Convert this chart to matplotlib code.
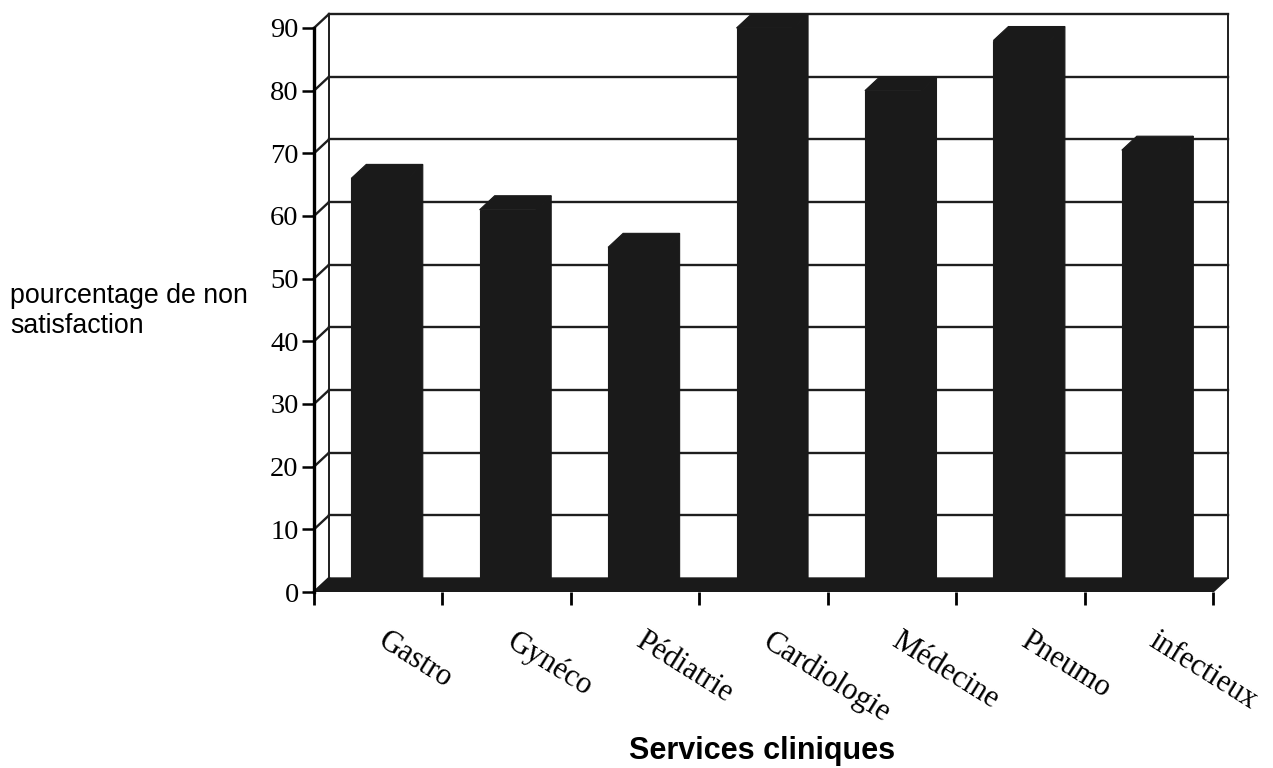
import matplotlib
matplotlib.use("Agg")
import matplotlib.pyplot as plt
from matplotlib.patches import Polygon

# data
services = ["Gastro", "Gynéco", "Pédiatrie", "Cardiologie", "Médecine", "Pneumo", "infectieux"]
non_satisfaction = [66, 61, 55, 90, 80, 88, 70.5]
y_ticks = [0, 10, 20, 30, 40, 50, 60, 70, 80, 90]

BAR_COLOR = "#1a1a1a"
LINE_COLOR = "#1e1e1e"

# pseudo-3d depth (data units)
dx, dy = 0.117, 2.23
bar_left, bar_w = 0.29, 0.44
ymax = 90

fig = plt.figure(figsize=(12.73, 7.68), dpi=100)
ax = fig.add_axes([314 / 1273, 1 - 592 / 768, 914 / 1273, 578 / 768])
n = len(services)
ax.set_xlim(0, n + dx)
ax.set_ylim(0, ymax + dy)
ax.patch.set_visible(False)

# back wall + gridlines
for v in y_ticks[1:]:
    ax.plot([dx, n + dx], [v + dy, v + dy], color=LINE_COLOR, lw=1.7, zorder=1, clip_on=False)
ax.plot([dx, dx, n + dx, n + dx], [dy, ymax + dy, ymax + dy, dy],
        color=LINE_COLOR, lw=1.4, zorder=1, clip_on=False)

# left side wall
for v in y_ticks:
    ax.plot([0, dx], [v, v + dy], color=LINE_COLOR, lw=1.7, zorder=1, clip_on=False)

# floor
floor = Polygon([(0, 0), (n, 0), (n + dx, dy), (dx, dy)], closed=True,
                facecolor=BAR_COLOR, edgecolor=BAR_COLOR, lw=1, zorder=2)
ax.add_patch(floor)

# bars: front face from the data, top and side faces offset by the depth
xs = [i + bar_left for i in range(n)]
ax.bar(xs, non_satisfaction, width=bar_w, align="edge", color=BAR_COLOR,
       edgecolor=BAR_COLOR, lw=0.8, zorder=3)
for x0, v in zip(xs, non_satisfaction):
    x1 = x0 + bar_w
    top = Polygon([(x0, v), (x1, v), (x1 + dx, v + dy), (x0 + dx, v + dy)],
                  closed=True, facecolor=BAR_COLOR, edgecolor=BAR_COLOR, lw=0.8, zorder=3)
    side = Polygon([(x1, 0), (x1 + dx, dy), (x1 + dx, v + dy), (x1, v)],
                   closed=True, facecolor=BAR_COLOR, edgecolor=BAR_COLOR, lw=0.8, zorder=3)
    ax.add_patch(top)
    ax.add_patch(side)

# axes / spines
for s in ["top", "right", "bottom"]:
    ax.spines[s].set_visible(False)
ax.spines["left"].set_bounds(0, ymax)
ax.spines["left"].set_linewidth(2.4)
ax.spines["left"].set_zorder(5)

ax.set_yticks(y_ticks)
ax.set_yticklabels([str(t) for t in y_ticks], family="Liberation Serif", fontsize=20.5)
ax.tick_params(axis="y", length=9, width=1.8, pad=2, colors="black")

ax.set_xticks(range(n + 1), minor=True)
ax.tick_params(axis="x", which="minor", length=9, width=2, direction="out")
ax.set_xticks([i + 0.5 + 0.08 for i in range(n)])
ax.set_xticklabels(services, family="Liberation Serif", fontsize=22,
                   rotation=-32, ha="left", va="top", rotation_mode="anchor")
ax.tick_params(axis="x", which="major", length=0, pad=25)

fig.text(10 / 1273, 1 - 311 / 768, "pourcentage de non\nsatisfaction",
         family="Liberation Sans", fontsize=19.3, ha="left", va="center",
         linespacing=1.2)
fig.text(762 / 1273, 1 - 751 / 768, "Services cliniques", family="Liberation Sans",
         fontsize=22, fontweight="bold", ha="center", va="center")

fig.savefig("out.png", dpi=100)
